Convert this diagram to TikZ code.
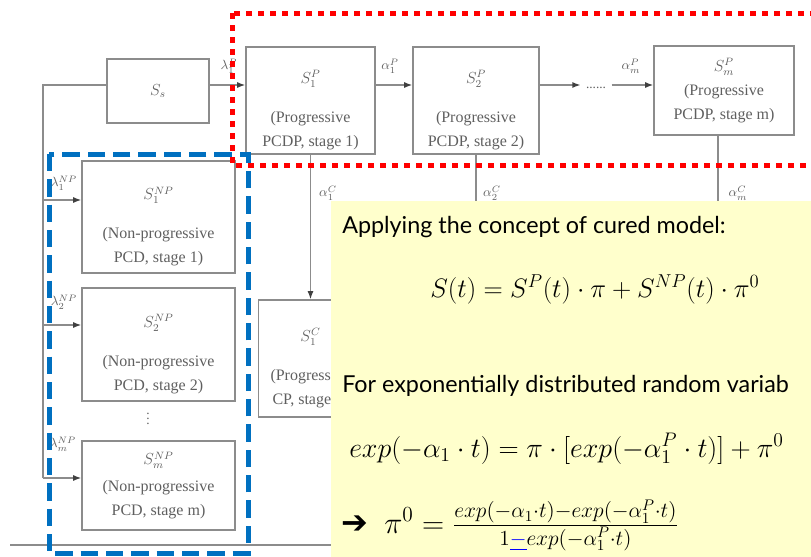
\documentclass[tikz,border=0pt]{standalone}
\usepackage{fix-cm}
\usepackage{amsmath,amssymb}
\usepackage{fontspec}
\setmainfont{Liberation Serif}
\newfontfamily\notefont{Lato}
\newfontfamily\arrowfont{DejaVu Sans}
\usepackage{tikz}
\usetikzlibrary{arrows.meta}
\definecolor{linegray}{RGB}{140,140,140}
\definecolor{textgray}{RGB}{95,95,95}
\definecolor{notebg}{RGB}{255,255,204}
\definecolor{dotred}{RGB}{255,0,0}
\definecolor{dashblue}{RGB}{0,112,192}
\newdimen\px \px=0.75pt
\newcommand\stagetext[3]{\rule{0pt}{24pt}#1\\[11pt]#2\\#3}

\begin{document}
\begin{tikzpicture}[x=1\px,y=-1\px,
	every node/.style={font=\fontsize{12}{18}\selectfont},
	blk/.style={draw=linegray, line width=1.2pt, text=textgray, align=center, inner sep=0pt},
	lbl/.style={text=textgray, font=\fontsize{10}{12}\selectfont, inner sep=0pt},
	wire/.style={linegray, line width=1pt},
	flow/.style={wire, -{Latex[length=6pt,width=4.5pt,color=black!75]}},
	note/.style={anchor=base west, inner sep=0pt, font=\notefont\fontsize{17.5}{20}\selectfont},
	eqn/.style={anchor=base west, inner sep=0pt, font=\fontsize{21}{25}\selectfont}]
	\useasboundingbox (0,0) rectangle (811,557);
	\clip (0,0) rectangle (811,557);
	\node[blk, minimum width=102\px, minimum height=64\px] (ss) at (158,91) {$S_s$};
	\node[blk, minimum width=129\px, minimum height=107\px] (p1) at (310.5,100.5) {\stagetext{$S_1^P$}{(Progressive}{PCDP, stage 1)}};
	\node[blk, minimum width=126\px, minimum height=107\px] (p2) at (476,100.5) {\stagetext{$S_2^P$}{(Progressive}{PCDP, stage 2)}};
	\node[blk, minimum width=140\px, minimum height=89\px] (pm) at (724,90.5) {$S_m^P$\\(Progressive\\PCDP, stage m)};
	\node[blk, minimum width=104\px, minimum height=117\px] (c1) at (310.5,358.5) {\stagetext{$S_1^C$}{(Progressive}{CP, stage 1)}};
	\node[blk, minimum width=153\px, minimum height=112\px] (np1) at (158.5,217) {\stagetext{$S_1^{NP}$}{(Non-progressive}{PCD, stage 1)}};
	\node[blk, minimum width=153\px, minimum height=113\px] (np2) at (158.5,344.5) {\stagetext{$S_2^{NP}$}{(Non-progressive}{PCD, stage 2)}};
	\node[blk, minimum width=153\px, minimum height=89\px] (npm) at (158.5,485.5) {$S_m^{NP}$\\[2pt](Non-progressive\\PCD, stage m)};
	\node[lbl, inner sep=4pt] (dots) at (596,88) {......};
	\node[lbl] (vd) at (148,415) {$\vdots$};
	\node[lbl] (lp1) at (229,66) {$\lambda_1^P$};
	\node[lbl] (ap1) at (390,66) {$\alpha_1^P$};
	\node[lbl] (apm) at (631,66) {$\alpha_m^P$};
	\node[lbl] (ac1) at (328,193) {$\alpha_1^C$};
	\node[lbl] (ac2) at (492,193) {$\alpha_2^C$};
	\node[lbl] (acm) at (738,193) {$\alpha_m^C$};
	\node[lbl] (ln1) at (64,183) {$\lambda_1^{NP}$};
	\node[lbl] (ln2) at (64,302) {$\lambda_2^{NP}$};
	\node[lbl] (lnm) at (63,444) {$\lambda_m^{NP}$};
	\coordinate (rail) at (43,85);
	\coordinate (in1) at (43,200);
	\coordinate (in2) at (43,325);
	\coordinate (inm) at (43,478);
	\coordinate (rulel) at (10,545);
	\coordinate (ruler) at (331,545);
	\draw[wire] (inm) -- (rail) -- (rail -| ss.west);
	\draw[flow] (rail -| ss.east) -- (rail -| p1.west);
	\draw[flow] (rail -| p1.east) -- (rail -| p2.west);
	\draw[flow] (rail -| p2.east) -- (rail -| dots.west);
	\draw[flow] (rail -| dots.east) -- (rail -| pm.west);
	\draw[flow] (p1.south) -- (c1.north);
	\draw[flow] (p2.south) -- (p2.south |- c1.north);
	\draw[flow] ([xshift=-4.5pt]pm.south) -- ([xshift=-4.5pt]pm.south |- c1.north);
	\draw[flow] (in1) -- (in1 -| np1.west);
	\draw[flow] (in2) -- (in2 -| np2.west);
	\draw[flow] (inm) -- (inm -| npm.west);
	\draw[wire] (rulel) -- (ruler);
	\draw[dashblue, line width=3.75pt, dash pattern=on 13pt off 6pt] (49,154) rectangle (248,553);
	\draw[dotred, line width=3.75pt, dash pattern=on 4.5pt off 4.5pt] (232,13) rectangle (840,165);
	\fill[notebg] (331,201) rectangle (811,557);
	\node[note] (n1) at (342,233) {Applying the concept of cured model:};
	\node[eqn, font=\fontsize{20}{24}\selectfont] (f1) at (430,297) {$S(t)=S^P(t)\cdot\pi+S^{NP}(t)\cdot\pi^0$};
	\node[note] (n2) at (342,392) {For exponentially distributed random variab};
	\node[eqn] (f2) at (349,457) {$exp(-\alpha_1\cdot t)=\pi\cdot[exp(-\alpha_1^P\cdot t)]+\pi^0$};
	\node[note, font=\arrowfont\bfseries\fontsize{24}{26}\selectfont] (arw) at (341,533) {➔};
	\node[eqn, font=\fontsize{23}{28}\selectfont] (f3) at (384,533) {$\pi^0=\frac{exp(-\alpha_1\cdot t)-exp(-\alpha_1^P\cdot t)}{1{\color{blue}\underline{-}}exp(-\alpha_1^P\cdot t)}$};
\end{tikzpicture}
\end{document}
